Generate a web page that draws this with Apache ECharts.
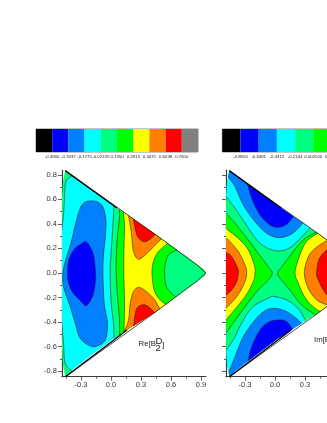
<!DOCTYPE html>
<html><head><meta charset="utf-8">
<style>html,body{margin:0;padding:0;background:#fff}#c{width:327px;height:423px}</style>
<script src="https://cdn.jsdelivr.net/npm/echarts@6/dist/echarts.min.js"></script>
</head><body><div id="c"></div>
<script>
// ---------- palette + colour bars ----------
const BLUE='#0000ff',AZURE='#0080ff',CYAN='#00ffff',SPRING='#00ff80',GREEN='#00ff00',YELLOW='#ffff00',ORANGE='#ff8000',RED='#ff0000';
const barColors=['#000000',BLUE,AZURE,CYAN,SPRING,GREEN,YELLOW,ORANGE,RED,'#808080'];
const reBarLabels=['-0.4900','-0.3337','-0.1775','-0.02135','0.1350','0.2913','0.4475','0.6038','0.7600'];
const imBarLabels=['-0.8650','-0.6481','-0.4313','-0.2144','0.002500','0.2194','0.4363','0.6531','0.8700'];
// ---------- axis ticks ----------
const xTicks=[-0.3,0,0.3,0.6,0.9];
const xMinor=[-0.45,-0.15,0.15,0.45,0.75];
const yTicks=[-0.8,-0.6,-0.4,-0.2,0,0.2,0.4,0.6,0.8];
const yMinor=[-0.7,-0.5,-0.3,-0.1,0.1,0.3,0.5,0.7];
// ---------- domain outline (x,y) ----------
const domain=[[-0.458,0.834],[-0.2,0.683],[0.025,0.549],[0.442,0.315],[0.659,0.188],[0.87,0.06],[0.93,0.025],[0.948,0],[0.93,-0.025],[0.87,-0.06],[0.659,-0.188],[0.442,-0.32],[0.025,-0.535],[-0.2,-0.675],[-0.39,-0.795],[-0.455,-0.845],[-0.48,-0.75],[-0.49,-0.6],[-0.49,0.6],[-0.48,0.74]];
const edgeThin=[[-0.458,0.834],[0.442,0.315],[0.87,0.06],[0.948,0],[0.87,-0.06],[0.442,-0.32],[-0.455,-0.845]];
const edgeThickUp=[[-0.458,0.834],[0.06,0.529]];
const edgeThickDown=[[-0.455,-0.845],[0.16,-0.465]];
// ---------- Re[B2D] contours: read points, then points outside the domain that close the region ----------
const reStripUp=[[-0.37,0.82],[-0.391,0.793],[-0.451,0.744],[-0.465,0.608],[-0.475,0.473],[-0.495,0.337],[-0.7,0.4],[-0.7,1],[-0.37,1]];
const reStripDown=[[-0.36,-0.83],[-0.39,-0.80],[-0.458,-0.735],[-0.475,-0.573],[-0.495,-0.383],[-0.7,-0.4],[-0.7,-1],[-0.36,-1]];
const reAzure=[[-0.081,0],[-0.075,0.147],[-0.058,0.282],[-0.05,0.419],[-0.075,0.527],[-0.125,0.575],[-0.19,0.587],[-0.258,0.577],[-0.308,0.527],[-0.358,0.391],[-0.392,0.27],[-0.458,0.092],[-0.48,0],[-0.475,-0.11],[-0.408,-0.274],[-0.358,-0.41],[-0.308,-0.532],[-0.208,-0.595],[-0.141,-0.595],[-0.058,-0.546],[-0.035,-0.41],[-0.068,-0.247]];
const reBlue=[[-0.155,0],[-0.17,0.13],[-0.2,0.2],[-0.25,0.255],[-0.3,0.235],[-0.36,0.2],[-0.42,0.11],[-0.435,0],[-0.43,-0.06],[-0.39,-0.15],[-0.3,-0.23],[-0.245,-0.266],[-0.18,-0.18],[-0.155,-0.06]];
const reSpringR=[[0.03,0.58],[0.025,0.473],[0.015,0.337],[0.002,0.174],[-0.008,0],[0.002,-0.247],[0.025,-0.41],[0.03,-0.56],[1.5,-1.2],[1.5,1.2]];
const reGreenL=[[0.08,0.56],[0.085,0.446],[0.065,0.31],[0.052,0.12],[0.052,0],[0.065,-0.19],[0.085,-0.382],[0.085,-0.54],[1.5,-1.2],[1.5,1.2]];
const reYellowL=[[0.12,0.53],[0.135,0.391],[0.13,0.228],[0.128,0],[0.135,-0.247],[0.129,-0.465],[0.12,-0.52],[1.5,-1.2],[1.5,1.2]];
const reGreenR=[[0.59,0.27],[0.565,0.242],[0.475,0.174],[0.425,0.096],[0.41,0],[0.432,-0.139],[0.492,-0.22],[0.575,-0.27],[0.61,-0.3],[1.5,-1.2],[1.5,1.2]];
const reSpringTip=[[0.68,0.21],[0.659,0.188],[0.575,0.147],[0.542,0.066],[0.535,0],[0.552,-0.11],[0.608,-0.166],[0.665,-0.207],[0.69,-0.235],[1.5,-1.2],[1.5,1.2]];
const reOrangeUp=[[0.165,0.51],[0.175,0.467],[0.202,0.337],[0.225,0.174],[0.275,0.112],[0.342,0.147],[0.425,0.213],[0.499,0.277],[0.53,0.32],[0.7,0.7],[0.2,0.8]];
const reRedUp=[[0.215,0.47],[0.225,0.432],[0.259,0.31],[0.309,0.261],[0.365,0.261],[0.442,0.315],[0.47,0.35],[0.6,0.7],[0.25,0.8]];
const reOrangeDown=[[0.12,-0.53],[0.132,-0.478],[0.175,-0.383],[0.192,-0.247],[0.225,-0.152],[0.275,-0.117],[0.342,-0.144],[0.425,-0.207],[0.492,-0.296],[0.52,-0.33],[0.7,-0.7],[0.15,-0.8]];
const reRedDown=[[0.215,-0.48],[0.225,-0.437],[0.252,-0.30],[0.309,-0.26],[0.365,-0.269],[0.432,-0.32],[0.46,-0.35],[0.6,-0.7],[0.25,-0.8]];
// ---------- Im[B2D] contours ----------
const imCyanUp=[[-0.53,0.65],[-0.49,0.622],[-0.40,0.527],[-0.30,0.407],[-0.183,0.27],[-0.083,0.206],[0.033,0.179],[0.15,0.206],[0.25,0.28],[0.35,0.364],[0.39,0.40],[1,1],[-1,1]];
const imAzureUp=[[-0.5,0.84],[-0.473,0.79],[-0.40,0.704],[-0.317,0.554],[-0.20,0.418],[-0.083,0.323],[0.033,0.288],[0.15,0.31],[0.233,0.364],[0.28,0.41],[0.32,0.46],[1,1],[-1,1]];
const imBlueUp=[[-0.29,0.78],[-0.277,0.731],[-0.233,0.608],[-0.15,0.473],[-0.05,0.391],[0.033,0.372],[0.117,0.397],[0.183,0.459],[0.21,0.5],[0.6,1],[-0.3,1]];
const imCyanDown=[[-0.53,-0.67],[-0.49,-0.63],[-0.417,-0.544],[-0.317,-0.383],[-0.217,-0.273],[-0.05,-0.198],[0,-0.193],[0.117,-0.22],[0.233,-0.29],[0.307,-0.39],[0.34,-0.43],[1,-1],[-1,-1]];
const imAzureDown=[[-0.5,-0.87],[-0.473,-0.83],[-0.40,-0.682],[-0.317,-0.519],[-0.2,-0.383],[-0.1,-0.307],[0,-0.288],[0.117,-0.315],[0.233,-0.383],[0.28,-0.43],[0.32,-0.48],[1,-1],[-1,-1]];
const imBlueDown=[[-0.29,-0.80],[-0.277,-0.75],[-0.233,-0.60],[-0.15,-0.465],[-0.067,-0.402],[0.033,-0.383],[0.117,-0.396],[0.183,-0.465],[0.21,-0.5],[0.6,-1],[-0.3,-1]];
const imGreenL=[[-0.53,0.51],[-0.49,0.486],[-0.40,0.405],[-0.267,0.269],[-0.167,0.16],[-0.067,0.05],[-0.027,0],[-0.067,-0.057],[-0.167,-0.138],[-0.30,-0.275],[-0.49,-0.49],[-0.53,-0.53],[-1,-0.5],[-1,0.5]];
const imYellowL=[[-0.53,0.39],[-0.49,0.364],[-0.35,0.269],[-0.267,0.188],[-0.207,0.065],[-0.2,0],[-0.217,-0.07],[-0.30,-0.193],[-0.49,-0.383],[-0.53,-0.42],[-1,-0.5],[-1,0.5]];
const imOrangeL=[[-0.53,0.30],[-0.467,0.269],[-0.367,0.174],[-0.30,0.065],[-0.283,0],[-0.307,-0.084],[-0.383,-0.193],[-0.49,-0.288],[-0.53,-0.32],[-1,-0.4],[-1,0.4]];
const imRedL=[[-0.53,0.19],[-0.49,0.168],[-0.433,0.133],[-0.373,0.038],[-0.367,0],[-0.383,-0.07],[-0.433,-0.138],[-0.49,-0.18],[-0.53,-0.2],[-1,-0.3],[-1,0.3]];
const imGreenR=[[0.43,0.36],[0.40,0.33],[0.283,0.27],[0.167,0.158],[0.067,0.05],[0.027,0],[0.05,-0.043],[0.15,-0.139],[0.267,-0.261],[0.41,-0.345],[0.45,-0.38],[1.5,-1],[1.5,1]];
const imYellowR=[[0.47,0.34],[0.38,0.30],[0.30,0.24],[0.233,0.11],[0.2,0],[0.233,-0.084],[0.30,-0.2],[0.40,-0.288],[0.5,-0.33],[1.5,-1],[1.5,1]];
const imOrangeR=[[0.6,0.3],[0.51,0.26],[0.40,0.20],[0.333,0.13],[0.293,0],[0.333,-0.125],[0.417,-0.22],[0.52,-0.261],[0.6,-0.3],[1.5,-1],[1.5,1]];
const imRedR=[[0.7,0.3],[0.52,0.19],[0.44,0.11],[0.417,0],[0.433,-0.057],[0.52,-0.18],[0.7,-0.3],[1.5,-1],[1.5,1]];

// colour, contour, number of trailing closing points (-1 = closed loop, 0 = straight outline)
const reLayers=[[CYAN,domain,null],[SPRING,reStripUp,3],[SPRING,reStripDown,3],[AZURE,reAzure,-1],[BLUE,reBlue,-1],[SPRING,reSpringR,2],[GREEN,reGreenL,2],[YELLOW,reYellowL,2],[GREEN,reGreenR,2],[SPRING,reSpringTip,2],[ORANGE,reOrangeUp,2],[RED,reRedUp,2],[ORANGE,reOrangeDown,2],[RED,reRedDown,2]];
const imLayers=[[SPRING,domain,null],[CYAN,imCyanUp,2],[AZURE,imAzureUp,2],[BLUE,imBlueUp,2],[CYAN,imCyanDown,2],[AZURE,imAzureDown,2],[BLUE,imBlueDown,2],[GREEN,imGreenL,2],[YELLOW,imYellowL,2],[ORANGE,imOrangeL,2],[RED,imRedL,2],[GREEN,imGreenR,2],[YELLOW,imYellowR,2],[ORANGE,imOrangeR,2],[RED,imRedR,2]];

const AX='#3a3a3a';
const FONT='"Liberation Sans",Arial,sans-serif';
const X0=-0.49,X1=0.95,Y0=-0.845,Y1=0.839;
const fmt=v=>Number(v).toFixed(1);
// pen path through already-projected pixel points (drawing only, the read points stay as they are)
function pen(pts,closed){
  const n=pts.length,out=[],S=6;
  const at=i=>closed?pts[(i+n)%n]:pts[Math.max(0,Math.min(n-1,i))];
  const last=closed?n:n-1;
  for(let i=0;i<last;i++){
    const a=at(i-1),b=at(i),c=at(i+1),d=at(i+2);
    for(let s=0;s<S;s++){
      const t=s/S,t2=t*t,t3=t2*t;
      out.push([0,1].map(k=>0.5*(2*b[k]+(c[k]-a[k])*t+(2*a[k]-5*b[k]+4*c[k]-d[k])*t2+(3*b[k]-a[k]-3*c[k]+d[k])*t3)));
    }
  }
  if(!closed) out.push(pts[n-1]);
  return out;
}
function panelAxes(grid,showY){
  return {
    x:[
      {type:'value',gridIndex:grid,min:X0,max:X1,position:'bottom',splitLine:{show:false},
        axisLine:{show:true,onZero:false,lineStyle:{color:AX,width:1.2}},
        axisTick:{show:true,length:4,customValues:xTicks,lineStyle:{color:AX,width:0.8}},
        axisLabel:{show:true,customValues:xTicks,formatter:fmt,fontFamily:FONT,fontSize:7.5,color:'#333',margin:4}},
      {type:'value',gridIndex:grid,min:X0,max:X1,position:'bottom',splitLine:{show:false},
        axisLine:{show:false,onZero:false},axisLabel:{show:false},
        axisTick:{show:true,length:2,customValues:xMinor,lineStyle:{color:AX,width:0.8}}}
    ],
    y:[
      {type:'value',gridIndex:grid,min:Y0,max:Y1,position:'left',splitLine:{show:false},
        axisLine:{show:true,onZero:false,lineStyle:{color:AX,width:1.2}},
        axisTick:{show:true,length:4,customValues:yTicks,lineStyle:{color:AX,width:0.8}},
        axisLabel:{show:showY,customValues:yTicks,formatter:fmt,fontFamily:FONT,fontSize:7.5,color:'#333',margin:5}},
      {type:'value',gridIndex:grid,min:Y0,max:Y1,position:'left',splitLine:{show:false},
        axisLine:{show:false,onZero:false},axisLabel:{show:false},
        axisTick:{show:true,length:2,customValues:yMinor,lineStyle:{color:AX,width:0.8}}}
    ]
  };
}
function contourSeries(xIdx,yIdx,layers){
  return {type:'custom',coordinateSystem:'cartesian2d',xAxisIndex:xIdx,yAxisIndex:yIdx,clip:false,silent:true,
    data:layers.map((l,i)=>[i]),
    renderItem:(p,api)=>{
      const l=layers[p.dataIndex];
      const pts=l[1].map(q=>api.coord(q));
      const clip=domain.map(q=>api.coord(q));
      let poly=pts;
      if(l[2]===-1) poly=pen(pts,true);
      else if(l[2]>0) poly=pen(pts.slice(0,pts.length-l[2]),false).concat(pts.slice(pts.length-l[2]));
      return {type:'polygon',shape:{points:poly},
        clipPath:{type:'polygon',shape:{points:clip}},
        style:{fill:l[0],stroke:'#1c1c1c',lineWidth:l[2]===null?0:0.55,lineJoin:'round'}};
    }};
}
function edgeSeries(xIdx,yIdx,pts,w){
  return {type:'line',xAxisIndex:xIdx,yAxisIndex:yIdx,data:pts,symbol:'none',silent:true,clip:false,z:5,
    lineStyle:{color:'#000',width:w}};
}
function barSeries(xIdx,yIdx){
  return {type:'custom',coordinateSystem:'cartesian2d',xAxisIndex:xIdx,yAxisIndex:yIdx,silent:true,
    data:barColors.map((c,i)=>[i]),
    renderItem:(p,api)=>{
      const a=api.coord([p.dataIndex,1]),b=api.coord([p.dataIndex+1,0]);
      return {type:'rect',shape:{x:a[0],y:a[1],width:b[0]-a[0],height:b[1]-a[1]},style:{fill:barColors[p.dataIndex]}};
    }};
}
function barAxes(grid,labels){
  return {
    x:{type:'value',gridIndex:grid,min:0,max:10,position:'bottom',splitLine:{show:false},
      axisLine:{show:false,onZero:false},axisTick:{show:false},
      axisLabel:{show:true,customValues:labels.map((s,i)=>i+1),formatter:v=>labels[Math.round(v)-1],fontFamily:FONT,fontSize:4.3,color:'#222',margin:3}},
    y:{type:'value',gridIndex:grid,min:0,max:1,show:false}
  };
}
const pRe=panelAxes(0,true),pIm=panelAxes(1,false),bRe=barAxes(2,reBarLabels),bIm=barAxes(3,imBarLabels);
const txt=(t,x,y,s)=>({type:'text',x:x,y:y,silent:true,style:{text:t,fontFamily:FONT,fontSize:s,fill:'#222',verticalAlign:'middle'}});
const option={
  animation:false,backgroundColor:'#fff',
  grid:[
    {left:62,top:170,width:144,height:206.7,outerBoundsMode:'none'},
    {left:226,top:170,width:144,height:206.7,outerBoundsMode:'none'},
    {left:36,top:129,width:162,height:23,show:true,borderColor:'#8a8a8a',borderWidth:1,backgroundColor:'transparent',outerBoundsMode:'none'},
    {left:222.3,top:129,width:182,height:23,show:true,borderColor:'#8a8a8a',borderWidth:1,backgroundColor:'transparent',outerBoundsMode:'none'}
  ],
  xAxis:[...pRe.x,...pIm.x,bRe.x,bIm.x],
  yAxis:[...pRe.y,...pIm.y,bRe.y,bIm.y],
  series:[
    contourSeries(0,0,reLayers),
    contourSeries(2,2,imLayers),
    edgeSeries(0,0,edgeThin,0.7),edgeSeries(0,0,edgeThickUp,1.4),edgeSeries(0,0,edgeThickDown,1.4),
    edgeSeries(2,2,edgeThin,0.7),edgeSeries(2,2,edgeThickUp,1.4),edgeSeries(2,2,edgeThickDown,1.4),
    barSeries(4,4),barSeries(5,5)
  ],
  graphic:[
    txt('Re[B',138.5,344,7.8),txt('D',155.5,341,9.5),txt('2',155.5,348,9.5),txt(']',162,345,8),
    txt('Im[B',314,340,7.8),txt('D',331,337,9.5),txt('2',331,344,9.5),txt(']',338,341,8)
  ]
};
const chart=echarts.init(document.getElementById('c'),null,{renderer:'canvas'});
chart.setOption(option);
</script></body></html>
